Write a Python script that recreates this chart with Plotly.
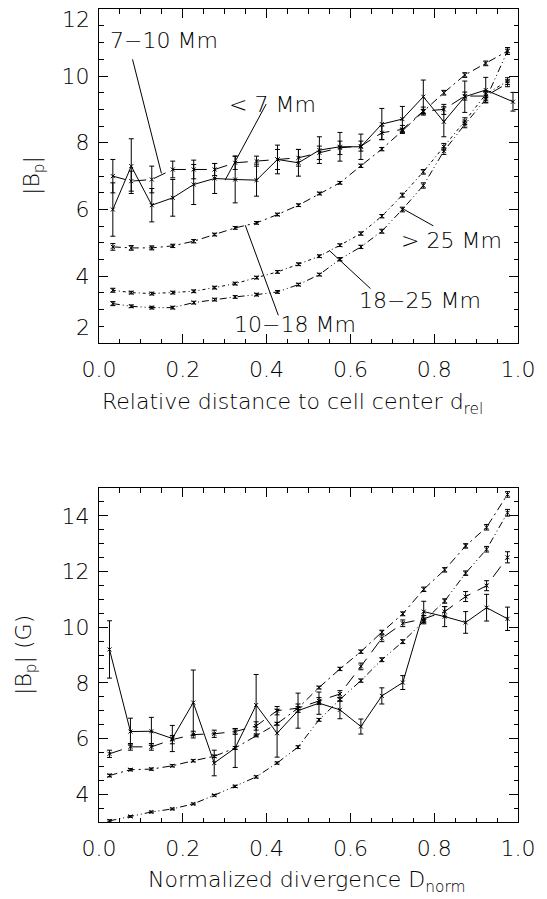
import plotly.graph_objects as go

# ---------------- data: top panel ----------------
x_top = [0.033, 0.077, 0.126, 0.176, 0.226, 0.276, 0.325, 0.376, 0.426, 0.476,
         0.526, 0.575, 0.625, 0.675, 0.724, 0.774, 0.823, 0.873, 0.923, 0.975]
x_top_lt7 = x_top[:-1] + [0.988]

top_lt7 = [6.0, 7.3, 6.13, 6.35, 6.75, 6.93, 6.9, 6.88, 7.5, 7.4,
           7.78, 7.88, 7.88, 8.56, 8.71, 9.38, 8.63, 9.38, 9.58, 9.23]
top_lt7_err = [0.8, 0.82, 0.5, 0.55, 0.6, 0.45, 0.7, 0.48, 0.43, 0.4,
               0.4, 0.43, 0.38, 0.47, 0.38, 0.5, 0.45, 0.47, 0.38, 0.28]

top_7_10 = [7.0, 6.85, 6.9, 7.2, 7.2, 7.2, 7.4, 7.45, 7.5, 7.55,
            7.7, 7.85, 7.9, 8.3, 8.4, 8.95, 9.0, 9.4, 9.4, 9.78]
top_7_10_err = [0.5, 0.3, 0.4, 0.25, 0.28, 0.18, 0.2, 0.15, 0.3, 0.25,
                0.2, 0.2, 0.15, 0.2, 0.12, 0.12, 0.15, 0.12, 0.12, 0.1]

top_10_18 = [4.88, 4.85, 4.85, 4.91, 5.05, 5.25, 5.45, 5.6, 5.85, 6.13,
             6.48, 6.8, 7.31, 7.81, 8.36, 8.93, 9.5, 10.03, 10.38, 10.75]
top_10_18_err = [0.1, 0.07, 0.06, 0.05, 0.05, 0.04, 0.04, 0.04, 0.04, 0.04,
                 0.04, 0.04, 0.05, 0.05, 0.06, 0.07, 0.07, 0.07, 0.07, 0.1]

top_18_25 = [3.58, 3.51, 3.48, 3.51, 3.55, 3.66, 3.78, 3.96, 4.13, 4.36,
             4.6, 4.93, 5.28, 5.8, 6.43, 7.13, 7.88, 8.65, 9.45, 9.85]
top_18_25_err = [0.06, 0.04, 0.04, 0.04, 0.04, 0.04, 0.04, 0.04, 0.04, 0.04,
                 0.04, 0.04, 0.05, 0.05, 0.06, 0.07, 0.1, 0.1, 0.1, 0.1]

top_gt25 = [3.18, 3.1, 3.06, 3.06, 3.21, 3.3, 3.38, 3.45, 3.53, 3.75,
            4.05, 4.51, 4.88, 5.35, 6.0, 6.72, 7.75, 8.55, 9.3, 10.75]
top_gt25_err = [0.06, 0.04, 0.04, 0.04, 0.04, 0.04, 0.04, 0.04, 0.04, 0.04,
                0.04, 0.05, 0.05, 0.06, 0.07, 0.08, 0.1, 0.1, 0.1, 0.1]

# ---------------- data: bottom panel ----------------
x_bot = [0.025, 0.075, 0.125, 0.175, 0.225, 0.275, 0.325, 0.375, 0.425, 0.475,
         0.525, 0.575, 0.625, 0.675, 0.725, 0.775, 0.825, 0.875, 0.925, 0.975]

bot_lt7 = [9.2, 6.25, 6.26, 6.0, 7.29, 5.12, 5.66, 7.2, 6.19, 7.0,
           7.27, 7.03, 6.43, 7.53, 8.01, 10.56, 10.38, 10.17, 10.7, 10.3]
bot_lt7_err = [1.03, 0.48, 0.5, 0.47, 1.17, 0.46, 0.7, 1.1, 0.86, 0.63,
               0.4, 0.32, 0.27, 0.29, 0.25, 0.37, 0.36, 0.39, 0.48, 0.42]

bot_7_10 = [5.45, 5.7, 5.7, 5.96, 6.14, 6.17, 6.25, 6.45, 7.0, 7.09,
            7.35, 7.6, 8.59, 9.6, 10.14, 10.3, 10.56, 11.1, 11.49, 12.51]
bot_7_10_err = [0.13, 0.12, 0.12, 0.15, 0.12, 0.13, 0.1, 0.15, 0.15, 0.15,
                0.12, 0.12, 0.12, 0.12, 0.12, 0.12, 0.18, 0.18, 0.18, 0.2]

bot_10_18 = [4.67, 4.88, 4.9, 5.02, 5.2, 5.36, 5.66, 6.11, 6.53, 7.09,
             7.83, 8.5, 9.12, 9.82, 10.48, 11.36, 12.06, 12.92, 13.59, 14.77]
bot_10_18_err = [0.05, 0.04, 0.04, 0.04, 0.04, 0.04, 0.05, 0.05, 0.05, 0.05,
                 0.05, 0.06, 0.06, 0.07, 0.07, 0.08, 0.08, 0.08, 0.1, 0.1]

bot_18_25 = [3.04, 3.2, 3.36, 3.47, 3.65, 3.96, 4.28, 4.62, 5.12, 5.69,
             6.67, 7.4, 8.08, 8.83, 9.48, 10.2, 10.94, 11.94, 12.8, 14.11]
bot_18_25_err = [0.04, 0.03, 0.03, 0.03, 0.03, 0.03, 0.04, 0.04, 0.04, 0.05,
                 0.05, 0.06, 0.06, 0.07, 0.07, 0.08, 0.08, 0.08, 0.1, 0.12]

# tick labels
top_y_ticks = [4, 6, 8, 10]          # inner labels drawn by the axis
top_y_end_labels = ["12", "2"]       # end labels (drawn inset, as in the original)
bot_y_ticks = [4, 6, 8, 10, 12, 14]

# label texts and pointer endpoints (data coords of top panel)
labels = ["7\u221210 Mm", "< 7 Mm", "10\u221218 Mm", "18\u221225 Mm", "> 25 Mm"]
label_pos = [(0.155, 11.06), (0.415, 9.15), (0.468, 2.55), (0.767, 3.27), (0.842, 5.07)]
pointers = [((0.080, 10.5), (0.149, 7.08)),
            ((0.399, 9.16), (0.301, 6.88)),
            ((0.428, 2.83), (0.349, 5.53)),
            ((0.648, 3.63), (0.549, 4.78)),
            ((0.798, 5.51), (0.724, 6.03))]

FONT = "DejaVu Sans"
FS = 22
W, H = 547, 899

D_SOLID = "solid"
D_LONG = "13px,8px"
D_DASHDOT = "8px,4px,2px,4px"
D_DOT = "3px,3px,1px,3px"
D_DDD = "7px,3px,1px,3px,1px,3px"

fig = go.Figure()


def add(x, y, e, dash, xa, ya):
    fig.add_trace(go.Scatter(
        x=x, y=y, mode="lines+markers", xaxis=xa, yaxis=ya,
        line=dict(color="black", width=1, dash=dash),
        marker=dict(symbol="x-thin-open", size=4, color="black",
                    line=dict(color="black", width=1)),
        error_y=dict(type="data", array=e, visible=True, color="black",
                     thickness=1, width=2.5),
        showlegend=False, hoverinfo="skip"))


add(x_top_lt7, top_lt7, top_lt7_err, D_SOLID, "x", "y")
add(x_top, top_7_10, top_7_10_err, D_LONG, "x", "y")
add(x_top, top_10_18, top_10_18_err, D_DASHDOT, "x", "y")
add(x_top, top_18_25, top_18_25_err, D_DOT, "x", "y")
add(x_top, top_gt25, top_gt25_err, D_DDD, "x", "y")

add(x_bot, bot_lt7, bot_lt7_err, D_SOLID, "x2", "y2")
add(x_bot, bot_7_10, bot_7_10_err, D_LONG, "x2", "y2")
add(x_bot, bot_10_18, bot_10_18_err, D_DASHDOT, "x2", "y2")
add(x_bot, bot_18_25, bot_18_25_err, D_DDD, "x2", "y2")

xdom = [99 / W, 518 / W]
tickfont = dict(family=FONT, size=FS, color="black", weight=200)


def xax(domain, anchor):
    return dict(domain=domain, anchor=anchor, range=[0, 1], tick0=0, dtick=0.2,
                tickformat=".1f", ticks="inside", ticklen=9, tickwidth=1,
                tickcolor="black", showline=True, linecolor="black", linewidth=1,
                mirror="ticks", showgrid=False, zeroline=False,
                minor=dict(tickmode="linear", tick0=0, dtick=0.05, ticks="inside",
                           ticklen=4.5, tickcolor="black", tickwidth=1,
                           showgrid=False),
                tickfont=tickfont, ticklabelstandoff=7, automargin=False,
                ticklabeloverflow="allow", fixedrange=True)


def yax(domain, anchor, rng, tickvals):
    return dict(domain=domain, anchor=anchor, range=rng, tickmode="array",
                tickvals=tickvals, ticktext=[str(v) for v in tickvals],
                ticks="inside", ticklen=9, tickwidth=1, tickcolor="black",
                showline=True, linecolor="black", linewidth=1, mirror="ticks",
                showgrid=False, zeroline=False,
                minor=dict(tickmode="linear", tick0=0, dtick=0.5, ticks="inside",
                           ticklen=4.5, tickcolor="black", tickwidth=1,
                           showgrid=False),
                tickfont=tickfont, ticklabelstandoff=4, automargin=False,
                ticklabeloverflow="allow", fixedrange=True)


def px(xp, yp):
    return xp / W, 1 - yp / H


annotations = []
for txt, (ax_, ay_) in zip(labels, label_pos):
    annotations.append(dict(text=txt, x=ax_, y=ay_, xref="x", yref="y",
                            showarrow=False, xanchor="center", yanchor="middle",
                            font=dict(family=FONT, size=FS, color="black", weight=200)))

# inset end labels of the top y axis (IDL style)
for txt, cy in zip(top_y_end_labels, [19, 327]):
    xx, yy = px(92, cy)
    annotations.append(dict(text=txt, x=xx, y=yy, xref="paper", yref="paper",
                            showarrow=False, xanchor="right", yanchor="middle",
                            font=dict(family=FONT, size=FS, color="black", weight=200)))

for txt, (cx, cy), ang in [
        ("Relative distance to cell center d<sub>rel</sub>", (292, 403), 0),
        ("Normalized divergence D<sub>norm</sub>", (307, 881), 0),
        ("|B<sub>p</sub>|", (33, 176), -90),
        ("|B<sub>p</sub>| (G)", (25, 655), -90)]:
    xx, yy = px(cx, cy)
    annotations.append(dict(text=txt, x=xx, y=yy, xref="paper", yref="paper",
                            showarrow=False, xanchor="center", yanchor="middle",
                            textangle=ang,
                            font=dict(family=FONT, size=FS, color="black", weight=200)))

shapes = []
for (p0, p1) in pointers:
    shapes.append(dict(type="line", xref="x", yref="y", x0=p0[0], y0=p0[1],
                       x1=p1[0], y1=p1[1], line=dict(color="black", width=1)))

fig.update_layout(
    width=W, height=H, autosize=False,
    margin=dict(l=0, r=0, t=0, b=0),
    paper_bgcolor="white", plot_bgcolor="white",
    xaxis=xax(xdom, "y"),
    yaxis=yax([1 - 343 / H, 1 - 9.3 / H], "x", [2, 12], top_y_ticks),
    xaxis2=xax(xdom, "y2"),
    yaxis2=yax([1 - 822 / H, 1 - 488 / H], "x2", [3, 15], bot_y_ticks),
    annotations=annotations, shapes=shapes,
    font=dict(family=FONT, size=FS, color="black"),
)

fig.write_html("out.html", config={"displayModeBar": False},
               post_script="document.body.style.margin='0';")
